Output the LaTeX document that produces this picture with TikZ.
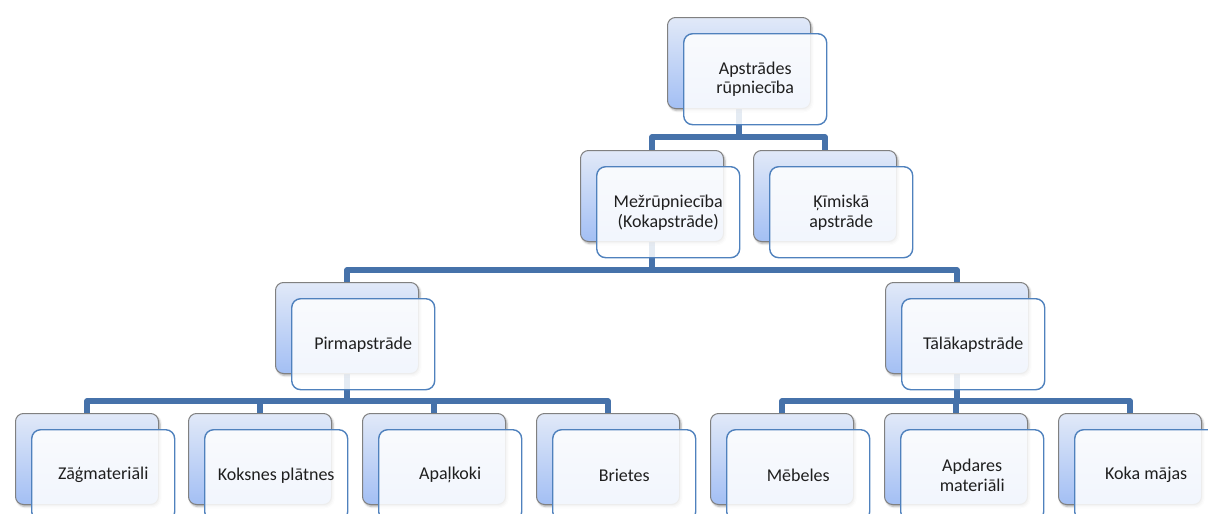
\documentclass[tikz,border=0pt]{standalone}
\usepackage{fontspec}
\setmainfont{Carlito}
\usetikzlibrary{shadows.blur}
\definecolor{connblue}{HTML}{4672AA}
\definecolor{backtop}{HTML}{E1E9F8}
\definecolor{backbot}{HTML}{A3BFF4}
\definecolor{backedge}{HTML}{808080}
\definecolor{frontedge}{HTML}{4F81BD}
\pgfdeclarelayer{bg}
\pgfsetlayers{bg,main}

\tikzset{
  backbox/.style={anchor=north west, minimum width=143pt, minimum height=91pt,
    rounded corners=8pt, draw=backedge, line width=1pt,
    top color=backtop, bottom color=backbot,
    blur shadow={shadow xshift=1.5pt, shadow yshift=-2pt, shadow opacity=35, shadow blur radius=2pt}},
  frontbox/.style={anchor=north west, minimum width=143pt, minimum height=91pt,
    rounded corners=9pt, draw=frontedge, line width=1.4pt,
    fill=white, fill opacity=0.86, text opacity=1, text=black!88,
    align=center, inner sep=2pt, font=\fontsize{18}{20}\selectfont},
  link/.style={draw=connblue, line width=5.5pt, line join=round},
}

% a shaded card with a white label card laid over it
\newcommand\cardpair[4]{%
  \node[backbox] (#1-b) at (#2,#3) {};
  \node[frontbox] (#1) at ([shift={(16,16)}]#1-b.north west) {#4};
}

\begin{document}
\begin{tikzpicture}[x=1pt,y=-1pt]
  \useasboundingbox (0,0) rectangle (1208,514);

  \cardpair{top}{667}{17}{Apstrādes\\rūpniecība}
  \cardpair{mez}{580}{150}{Mežrūpniecība\\(Kokapstrāde)}
  \cardpair{kim}{753}{150}{Ķīmiskā\\apstrāde}
  \cardpair{pirm}{275}{282}{Pirmapstrāde}
  \cardpair{talak}{885}{282}{Tālākapstrāde}
  \cardpair{zag}{15}{413}{Zāģmateriāli}
  \cardpair{kok}{188}{413}{Koksnes plātnes}
  \cardpair{apal}{362}{413}{Apaļkoki}
  \cardpair{briet}{536}{413}{Brietes}
  \cardpair{meb}{710}{413}{Mēbeles}
  \cardpair{apd}{884}{413}{Apdares\\materiāli}
  \cardpair{koka}{1058}{413}{Koka mājas}

  \coordinate (bar1) at (0,137);
  \coordinate (bar2) at (0,270);
  \coordinate (bar3) at (0,401);

  \begin{pgfonlayer}{bg}
    \foreach \c in {mez,kim}
      \draw[link] (top-b.center) -- (top-b.center |- bar1) -| (\c-b.north);
    \foreach \c in {pirm,talak}
      \draw[link] (mez-b.center) -- (mez-b.center |- bar2) -| (\c-b.north);
    \foreach \c in {zag,kok,apal,briet}
      \draw[link] (pirm-b.center) -- (pirm-b.center |- bar3) -| (\c-b.north);
    \foreach \c in {meb,apd,koka}
      \draw[link] (talak-b.center) -- (talak-b.center |- bar3) -| (\c-b.north);
  \end{pgfonlayer}
\end{tikzpicture}
\end{document}
